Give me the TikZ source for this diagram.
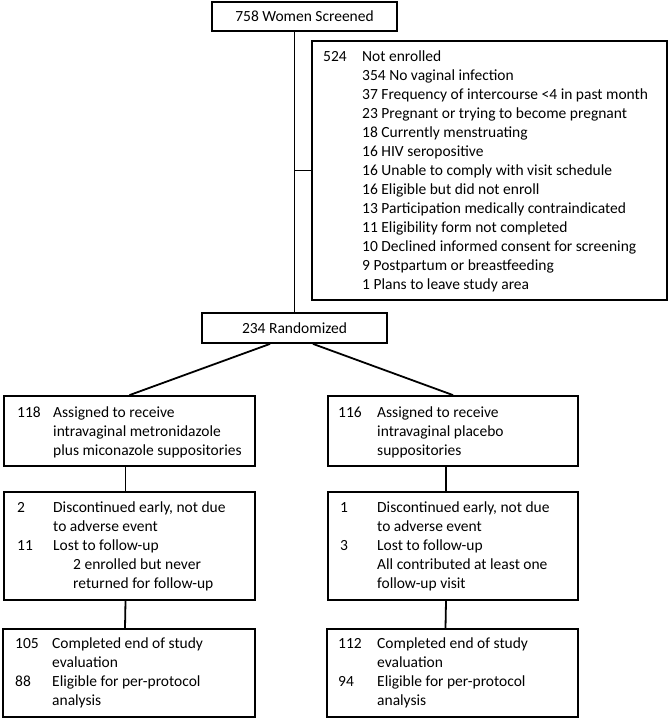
\documentclass[tikz,border=0pt]{standalone}
\usepackage{fontspec}
\setmainfont{Carlito}
\usepackage{tikz}
\tikzstyle{Box}=[draw=black,line width=1.8pt,inner sep=0pt,
font=\fontsize{15.5}{19}\selectfont]
\tikzstyle{Edge}=[draw=black,line width=1.8pt]
\tikzstyle{NodeTxt}=[anchor=base west,inner sep=0pt,
font=\fontsize{15.5}{19}\selectfont]
\newcommand{\Rows}[2]{\begin{tabular}[t]{@{}p{#1}@{}l@{}}#2\end{tabular}}

\begin{document}
\begin{tikzpicture}[x=1pt,y=-1pt]
        \useasboundingbox(0,0)rectangle(669,719);
        % boxes
        \node[Box,minimum width=185pt,minimum height=29pt](Top)at(304.5,16.5){758 Women Screened};
        \node[Box,minimum width=355pt,minimum height=259pt](NE)at(489.5,170.5){};
        \node[Box,minimum width=185pt,minimum height=30pt](Rand)at(294.5,328){234 Randomized};
        \node[Box,minimum width=251pt,minimum height=70pt](A1)at(129.5,431){};
        \node[Box,minimum width=250pt,minimum height=70pt](B1)at(453,431){};
        \node[Box,minimum width=251pt,minimum height=108pt](A2)at(129.5,546){};
        \node[Box,minimum width=250pt,minimum height=108pt](B2)at(453,546){};
        \node[Box,minimum width=252pt,minimum height=88pt](A3)at(129,673){};
        \node[Box,minimum width=251pt,minimum height=88pt](B3)at(452.5,673){};
        % texts
        \node[NodeTxt](NEtxt)at(323,62){\Rows{39pt}{
            524 & Not enrolled\\
            & 354 No vaginal infection\\
            & 37 Frequency of intercourse <4 in past month\\
            & 23 Pregnant or trying to become pregnant\\
            & 18 Currently menstruating\\
            & 16 HIV seropositive\\
            & 16 Unable to comply with visit schedule\\
            & 16 Eligible but did not enroll\\
            & 13 Participation medically contraindicated\\
            & 11 Eligibility form not completed\\
            & 10 Declined informed consent for screening\\
            & 9 Postpartum or breastfeeding\\
            & 1 Plans to leave study area}};
        \node[NodeTxt](A1txt)at(17,417){\Rows{36pt}{
            118 & Assigned to receive\\
            & intravaginal metronidazole\\
            & plus miconazole suppositories}};
        \node[NodeTxt](B1txt)at(338,417){\Rows{39pt}{
            116 & Assigned to receive\\
            & intravaginal placebo\\
            & suppositories}};
        \node[NodeTxt](A2txt)at(17,512){\Rows{36pt}{
            2 & Discontinued early, not due\\
            & to adverse event\\
            11 & Lost to follow-up\\
            & \hspace{20pt}2 enrolled but never\\
            & \hspace{20pt}returned for follow-up}};
        \node[NodeTxt](B2txt)at(340,512){\Rows{37pt}{
            1 & Discontinued early, not due\\
            & to adverse event\\
            3 & Lost to follow-up\\
            & All contributed at least one\\
            & follow-up visit}};
        \node[NodeTxt](A3txt)at(15,648){\Rows{37pt}{
            105 & Completed end of study\\
            & evaluation\\
            88 & Eligible for per-protocol\\
            & analysis}};
        \node[NodeTxt](B3txt)at(338,648){\Rows{39pt}{
            112 & Completed end of study\\
            & evaluation\\
            94 & Eligible for per-protocol\\
            & analysis}};
        % connectors
        \draw[Edge](Top.south-|Rand.north)--(Rand.north);
        \draw[Edge](NE.west-|Rand.north)--(NE.west);
        \draw[Edge]([xshift=-24.5pt]Rand.south)--(A1.north);
        \draw[Edge]([xshift=18.5pt]Rand.south)--(B1.north);
        \draw[Edge]([xshift=-4pt]A1.south)--([xshift=-4pt]A2.north);
        \draw[Edge]([xshift=-4pt]A2.south)--([xshift=-4pt]A3.north);
        \draw[Edge]([xshift=-7pt]B1.south)--([xshift=-7pt]B2.north);
        \draw[Edge]([xshift=-7pt]B2.south)--([xshift=-7pt]B3.north);
    \end{tikzpicture}
\end{document}
